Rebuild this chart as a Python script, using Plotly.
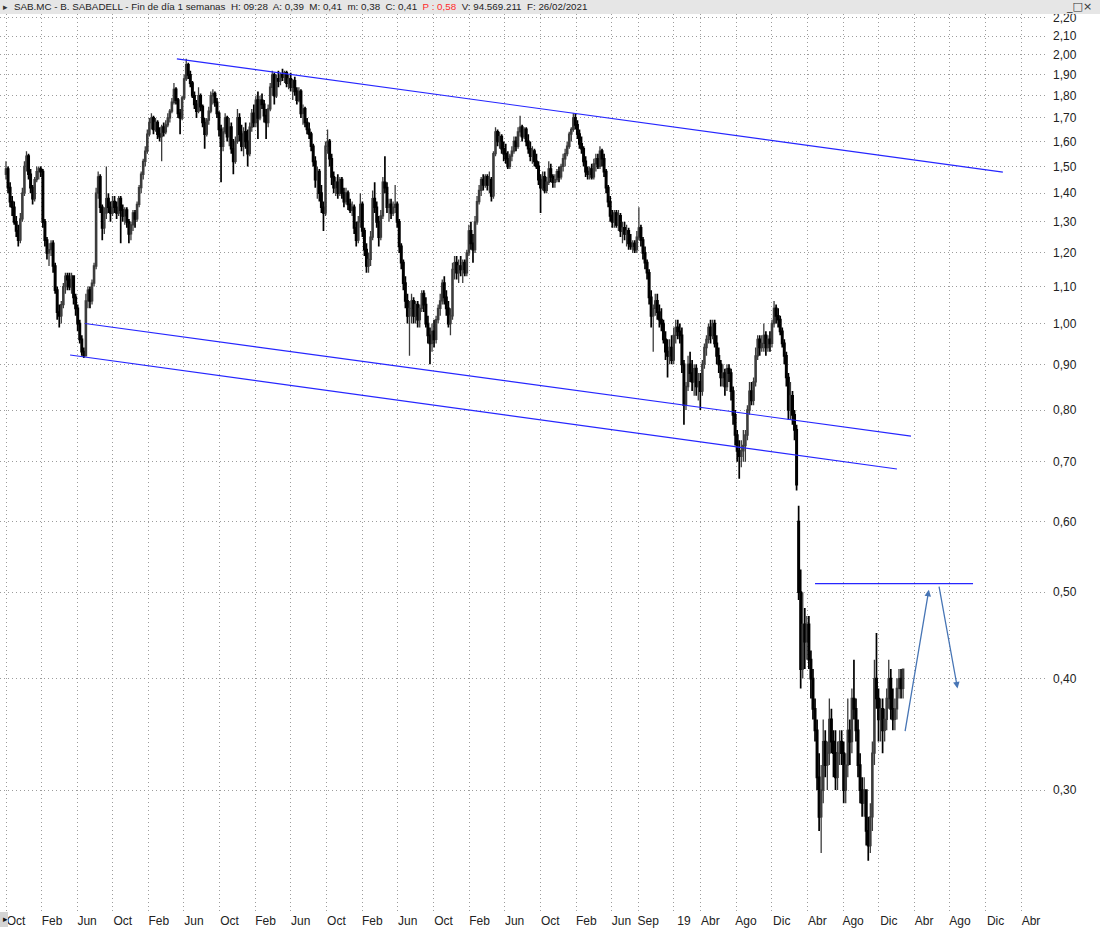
import numpy as np
import pandas as pd
import plotly.graph_objects as go

# ---------------- weekly OHLC ----------------
first_week = "2012-10-01"

opens = [
 1.47,1.49,1.42,1.37,1.35,1.30,1.27,1.24,1.31,1.40,
 1.50,1.54,1.47,1.42,1.38,1.45,1.48,1.49,1.48,1.30,
 1.24,1.20,1.21,1.23,1.16,1.09,1.03,1.02,1.05,1.10,
 1.13,1.12,1.10,1.13,1.07,1.04,1.00,0.96,0.93,0.92,
 1.06,1.09,1.06,1.11,1.16,1.40,1.46,1.35,1.28,1.33,
 1.38,1.35,1.33,1.37,1.35,1.33,1.38,1.34,1.32,1.34,
 1.30,1.26,1.29,1.33,1.31,1.36,1.42,1.47,1.52,1.56,
 1.63,1.68,1.70,1.65,1.68,1.63,1.62,1.66,1.64,1.67,
 1.70,1.73,1.77,1.83,1.78,1.72,1.70,1.79,1.88,1.95,
 1.90,1.86,1.80,1.76,1.73,1.80,1.75,1.68,1.63,1.69,
 1.73,1.80,1.81,1.77,1.72,1.65,1.58,1.64,1.70,1.62,
 1.66,1.57,1.52,1.60,1.70,1.63,1.58,1.64,1.60,1.55,
 1.66,1.72,1.68,1.78,1.70,1.78,1.76,1.71,1.68,1.74,
 1.84,1.90,1.80,1.88,1.87,1.90,1.89,1.91,1.86,1.88,
 1.84,1.87,1.82,1.78,1.82,1.72,1.74,1.68,1.65,1.63,
 1.58,1.52,1.45,1.48,1.40,1.35,1.33,1.58,1.60,1.53,
 1.46,1.42,1.44,1.40,1.45,1.40,1.37,1.40,1.36,1.34,
 1.35,1.28,1.24,1.30,1.36,1.27,1.21,1.16,1.18,1.25,
 1.38,1.35,1.30,1.25,1.32,1.44,1.42,1.35,1.36,1.33,
 1.35,1.36,1.30,1.22,1.17,1.11,1.06,1.02,1.04,1.06,
 1.02,1.05,1.01,1.04,1.08,1.05,1.00,0.97,0.95,0.98,
 0.96,1.01,1.04,1.06,1.11,1.07,1.04,1.00,1.02,1.15,
 1.17,1.14,1.16,1.15,1.17,1.14,1.20,1.27,1.23,1.21,
 1.30,1.37,1.41,1.45,1.43,1.46,1.43,1.45,1.39,1.55,
 1.64,1.60,1.62,1.57,1.55,1.53,1.50,1.54,1.56,1.60,
 1.58,1.64,1.66,1.62,1.65,1.60,1.57,1.54,1.56,1.52,
 1.50,1.45,1.42,1.46,1.41,1.44,1.49,1.46,1.44,1.45,
 1.48,1.46,1.50,1.53,1.55,1.58,1.63,1.65,1.70,1.67,
 1.63,1.59,1.57,1.52,1.48,1.47,1.49,1.46,1.51,1.53,
 1.50,1.56,1.53,1.48,1.42,1.37,1.32,1.30,1.33,1.29,
 1.32,1.27,1.28,1.26,1.27,1.23,1.22,1.23,1.21,1.25,
 1.28,1.24,1.20,1.17,1.14,1.07,1.02,1.04,1.06,1.03,
 1.01,1.00,0.96,0.93,0.92,0.94,0.91,0.97,0.99,0.98,
 0.97,0.90,0.81,0.85,0.90,0.88,0.86,0.89,0.85,0.86,
 0.84,0.90,0.94,0.96,0.99,0.97,1.00,0.95,0.92,0.90,
 0.87,0.88,0.85,0.89,0.88,0.84,0.79,0.75,0.72,0.71,
 0.72,0.73,0.75,0.80,0.84,0.82,0.86,0.92,0.96,0.94,
 0.95,0.97,0.94,0.96,0.95,1.00,1.04,1.02,1.01,0.98,
 0.95,0.92,0.87,0.80,0.83,0.79,0.76,0.60,0.50,0.41,
 0.46,0.44,0.46,0.42,0.40,0.37,0.35,0.31,0.28,0.30,
 0.34,0.32,0.33,0.36,0.34,0.33,0.31,0.33,0.34,0.33,
 0.30,0.32,0.35,0.34,0.38,0.37,0.35,0.32,0.30,0.29,
 0.30,0.27,0.26,0.28,0.33,0.40,0.38,0.36,0.37,0.35,
 0.36,0.38,0.40,0.37,0.36,0.37,0.39,0.40,0.39]

highs = [
 1.52,1.50,1.44,1.39,1.37,1.32,1.29,1.33,1.42,1.52,
 1.56,1.55,1.49,1.43,1.46,1.50,1.50,1.50,1.49,1.31,
 1.25,1.23,1.24,1.24,1.17,1.10,1.05,1.06,1.11,1.14,
 1.14,1.14,1.14,1.13,1.08,1.05,1.01,0.97,0.94,1.08,
 1.10,1.10,1.12,1.17,1.42,1.48,1.47,1.36,1.35,1.50,
 1.40,1.37,1.39,1.39,1.37,1.39,1.39,1.36,1.35,1.35,
 1.31,1.30,1.34,1.34,1.37,1.43,1.48,1.53,1.58,1.65,
 1.70,1.72,1.71,1.70,1.69,1.66,1.67,1.68,1.69,1.72,
 1.74,1.79,1.86,1.84,1.79,1.74,1.80,1.90,1.98,1.96,
 1.92,1.87,1.82,1.78,1.84,1.81,1.76,1.70,1.70,1.75,
 1.82,1.83,1.82,1.79,1.73,1.67,1.66,1.72,1.71,1.70,
 1.68,1.61,1.62,1.74,1.72,1.67,1.66,1.68,1.65,1.68,
 1.74,1.76,1.80,1.82,1.80,1.81,1.78,1.74,1.76,1.86,
 1.92,1.91,1.90,1.92,1.91,1.93,1.92,1.92,1.90,1.91,
 1.88,1.89,1.84,1.84,1.83,1.76,1.75,1.70,1.68,1.64,
 1.59,1.54,1.50,1.49,1.43,1.37,1.60,1.65,1.61,1.55,
 1.48,1.46,1.47,1.46,1.46,1.42,1.42,1.41,1.38,1.37,
 1.36,1.30,1.32,1.40,1.37,1.28,1.23,1.20,1.27,1.41,
 1.44,1.37,1.32,1.34,1.46,1.54,1.44,1.38,1.38,1.37,
 1.43,1.37,1.31,1.23,1.18,1.13,1.08,1.06,1.08,1.07,
 1.06,1.06,1.05,1.09,1.09,1.07,1.02,0.99,1.00,1.01,
 1.02,1.05,1.08,1.12,1.13,1.09,1.06,1.04,1.17,1.19,
 1.19,1.18,1.19,1.18,1.18,1.21,1.29,1.30,1.26,1.32,
 1.39,1.43,1.46,1.47,1.47,1.47,1.48,1.46,1.56,1.66,
 1.65,1.64,1.63,1.60,1.59,1.56,1.55,1.58,1.62,1.62,
 1.66,1.71,1.67,1.66,1.66,1.63,1.60,1.58,1.57,1.55,
 1.52,1.47,1.48,1.48,1.46,1.52,1.51,1.47,1.47,1.49,
 1.50,1.51,1.55,1.57,1.60,1.64,1.66,1.72,1.72,1.69,
 1.65,1.62,1.58,1.54,1.50,1.50,1.51,1.53,1.55,1.55,
 1.58,1.57,1.55,1.49,1.43,1.39,1.34,1.34,1.34,1.34,
 1.33,1.30,1.30,1.29,1.28,1.26,1.24,1.24,1.27,1.35,
 1.29,1.25,1.22,1.18,1.15,1.09,1.05,1.08,1.08,1.05,
 1.04,1.01,0.98,0.96,0.96,0.97,0.99,1.01,1.01,1.00,
 0.99,0.91,0.86,0.92,0.93,0.91,0.90,0.90,0.88,0.88,
 0.91,0.95,0.97,1.00,1.01,1.01,1.01,0.97,0.94,0.91,
 0.90,0.89,0.90,0.90,0.89,0.85,0.80,0.76,0.74,0.74,
 0.76,0.76,0.81,0.86,0.86,0.87,0.94,0.97,0.97,0.97,
 1.00,0.98,0.97,0.98,1.01,1.06,1.05,1.04,1.02,0.99,
 0.96,0.93,0.88,0.86,0.84,0.80,0.77,0.625,0.53,0.50,
 0.48,0.47,0.47,0.43,0.41,0.38,0.36,0.33,0.32,0.36,
 0.35,0.34,0.38,0.37,0.35,0.35,0.34,0.35,0.35,0.34,
 0.33,0.38,0.36,0.39,0.42,0.38,0.36,0.33,0.31,0.31,
 0.30,0.28,0.29,0.34,0.42,0.45,0.39,0.38,0.38,0.37,
 0.39,0.42,0.41,0.39,0.38,0.40,0.41,0.41,0.41]

lows = [
 1.45,1.40,1.35,1.32,1.29,1.25,1.22,1.23,1.30,1.39,
 1.48,1.45,1.40,1.36,1.37,1.44,1.45,1.46,1.28,1.22,
 1.18,1.16,1.19,1.14,1.08,1.01,0.99,1.00,1.04,1.08,
 1.09,1.09,1.08,1.05,1.02,0.98,0.95,0.92,0.915,0.92,
 1.04,1.04,1.05,1.10,1.15,1.38,1.33,1.24,1.26,1.31,
 1.33,1.30,1.32,1.33,1.31,1.32,1.23,1.30,1.29,1.28,
 1.23,1.24,1.27,1.28,1.30,1.35,1.40,1.45,1.50,1.55,
 1.62,1.65,1.63,1.64,1.61,1.60,1.52,1.62,1.63,1.66,
 1.68,1.72,1.76,1.76,1.70,1.63,1.69,1.78,1.87,1.88,
 1.84,1.79,1.74,1.70,1.72,1.73,1.66,1.57,1.62,1.67,
 1.72,1.76,1.75,1.70,1.62,1.44,1.56,1.63,1.60,1.58,
 1.55,1.47,1.51,1.59,1.60,1.56,1.54,1.57,1.50,1.54,
 1.64,1.66,1.66,1.61,1.69,1.74,1.68,1.61,1.66,1.73,
 1.80,1.76,1.79,1.84,1.85,1.87,1.86,1.84,1.83,1.82,
 1.78,1.80,1.76,1.77,1.70,1.67,1.66,1.63,1.61,1.56,
 1.50,1.42,1.38,1.37,1.33,1.27,1.32,1.55,1.50,1.43,
 1.40,1.39,1.38,1.39,1.38,1.35,1.36,1.34,1.33,1.32,
 1.26,1.22,1.23,1.28,1.25,1.19,1.14,1.14,1.16,1.24,
 1.33,1.28,1.22,1.24,1.31,1.40,1.33,1.30,1.31,1.32,
 1.33,1.28,1.20,1.15,1.09,1.04,1.00,0.92,1.00,1.00,
 1.00,0.99,0.99,1.03,1.03,0.99,0.95,0.90,0.93,0.94,
 0.95,1.00,1.02,1.05,1.05,1.02,0.99,0.97,1.01,1.12,
 1.12,1.11,1.13,1.11,1.13,1.13,1.19,1.21,1.17,1.20,
 1.29,1.36,1.39,1.41,1.42,1.41,1.40,1.37,1.38,1.54,
 1.58,1.57,1.55,1.52,1.51,1.49,1.49,1.52,1.55,1.56,
 1.57,1.62,1.60,1.61,1.58,1.55,1.52,1.51,1.50,1.49,
 1.43,1.33,1.41,1.40,1.40,1.43,1.44,1.42,1.42,1.44,
 1.44,1.45,1.48,1.50,1.54,1.57,1.60,1.64,1.65,1.61,
 1.57,1.55,1.50,1.46,1.45,1.45,1.45,1.45,1.48,1.49,
 1.49,1.50,1.46,1.40,1.35,1.30,1.28,1.28,1.28,1.27,
 1.25,1.23,1.24,1.22,1.21,1.21,1.20,1.20,1.20,1.24,
 1.22,1.18,1.15,1.12,1.05,0.99,0.93,1.02,1.01,0.99,
 0.98,0.95,0.91,0.87,0.90,0.90,0.90,0.95,0.96,0.95,
 0.88,0.77,0.80,0.84,0.86,0.84,0.83,0.83,0.82,0.80,
 0.83,0.89,0.92,0.95,0.95,0.96,0.94,0.90,0.88,0.85,
 0.85,0.83,0.84,0.86,0.82,0.77,0.73,0.70,0.67,0.69,
 0.70,0.70,0.74,0.79,0.81,0.81,0.85,0.91,0.92,0.93,
 0.93,0.92,0.93,0.93,0.94,0.99,1.00,0.99,0.97,0.94,
 0.90,0.85,0.78,0.78,0.77,0.74,0.65,0.49,0.39,0.40,
 0.41,0.42,0.41,0.38,0.36,0.34,0.30,0.27,0.255,0.29,
 0.31,0.30,0.32,0.33,0.31,0.30,0.30,0.32,0.32,0.29,
 0.29,0.31,0.32,0.33,0.36,0.34,0.31,0.29,0.28,0.28,
 0.26,0.25,0.255,0.27,0.32,0.37,0.34,0.34,0.33,0.34,
 0.35,0.37,0.36,0.35,0.35,0.36,0.38,0.38,0.38]

closes = [
 1.49,1.42,1.37,1.35,1.30,1.27,1.24,1.31,1.40,1.50,
 1.54,1.47,1.42,1.38,1.45,1.48,1.49,1.48,1.30,1.24,
 1.20,1.21,1.23,1.16,1.09,1.03,1.02,1.05,1.10,1.13,
 1.12,1.10,1.13,1.07,1.04,1.00,0.96,0.93,0.92,1.06,
 1.09,1.06,1.11,1.16,1.40,1.46,1.35,1.28,1.33,1.38,
 1.35,1.33,1.37,1.35,1.33,1.38,1.34,1.32,1.34,1.30,
 1.26,1.29,1.33,1.31,1.36,1.42,1.47,1.52,1.56,1.63,
 1.68,1.70,1.65,1.68,1.63,1.62,1.66,1.64,1.67,1.70,
 1.73,1.77,1.83,1.78,1.72,1.70,1.79,1.88,1.95,1.90,
 1.86,1.80,1.76,1.73,1.80,1.75,1.68,1.63,1.69,1.73,
 1.80,1.81,1.77,1.72,1.65,1.58,1.64,1.70,1.62,1.66,
 1.57,1.52,1.60,1.70,1.63,1.58,1.64,1.60,1.55,1.66,
 1.72,1.68,1.78,1.70,1.78,1.76,1.71,1.68,1.74,1.84,
 1.90,1.80,1.88,1.87,1.90,1.89,1.91,1.86,1.88,1.84,
 1.87,1.82,1.78,1.82,1.72,1.74,1.68,1.65,1.63,1.58,
 1.52,1.45,1.48,1.40,1.35,1.33,1.58,1.60,1.53,1.46,
 1.42,1.44,1.40,1.45,1.40,1.37,1.40,1.36,1.34,1.35,
 1.28,1.24,1.30,1.36,1.27,1.21,1.16,1.18,1.25,1.38,
 1.35,1.30,1.25,1.32,1.44,1.42,1.35,1.36,1.33,1.35,
 1.36,1.30,1.22,1.17,1.11,1.06,1.02,1.04,1.06,1.02,
 1.05,1.01,1.04,1.08,1.05,1.00,0.97,0.95,0.98,0.96,
 1.01,1.04,1.06,1.11,1.07,1.04,1.00,1.02,1.15,1.17,
 1.14,1.16,1.15,1.17,1.14,1.20,1.27,1.23,1.21,1.30,
 1.37,1.41,1.45,1.43,1.46,1.43,1.45,1.39,1.55,1.64,
 1.60,1.62,1.57,1.55,1.53,1.50,1.54,1.56,1.60,1.58,
 1.64,1.66,1.62,1.65,1.60,1.57,1.54,1.56,1.52,1.50,
 1.45,1.42,1.46,1.41,1.44,1.49,1.46,1.44,1.45,1.48,
 1.46,1.50,1.53,1.55,1.58,1.63,1.65,1.70,1.67,1.63,
 1.59,1.57,1.52,1.48,1.47,1.49,1.46,1.51,1.53,1.50,
 1.56,1.53,1.48,1.42,1.37,1.32,1.30,1.33,1.29,1.32,
 1.27,1.28,1.26,1.27,1.23,1.22,1.23,1.21,1.25,1.28,
 1.24,1.20,1.17,1.14,1.07,1.02,1.04,1.06,1.03,1.01,
 1.00,0.96,0.93,0.92,0.94,0.91,0.97,0.99,0.98,0.97,
 0.90,0.81,0.85,0.90,0.88,0.86,0.89,0.85,0.86,0.84,
 0.90,0.94,0.96,0.99,0.97,1.00,0.95,0.92,0.90,0.87,
 0.88,0.85,0.89,0.88,0.84,0.79,0.75,0.72,0.71,0.72,
 0.73,0.75,0.80,0.84,0.82,0.86,0.92,0.96,0.94,0.95,
 0.97,0.94,0.96,0.95,1.00,1.04,1.02,1.01,0.98,0.95,
 0.92,0.87,0.80,0.83,0.79,0.76,0.66,0.50,0.41,0.46,
 0.44,0.46,0.42,0.40,0.37,0.35,0.31,0.28,0.30,0.34,
 0.32,0.33,0.36,0.34,0.33,0.31,0.33,0.34,0.33,0.30,
 0.32,0.35,0.34,0.38,0.37,0.35,0.32,0.30,0.29,0.30,
 0.27,0.26,0.28,0.33,0.40,0.38,0.36,0.37,0.35,0.36,
 0.38,0.40,0.37,0.36,0.37,0.39,0.40,0.39,0.41]

# ---------------- drawn trend lines (end points) ----------------
upper_line_x = ["2014-05-08", "2022-01-29"]
upper_line_y = [1.98, 1.478]
mid_line_x = ["2013-06-28", "2021-03-21"]
mid_line_y = [1.00, 0.748]
low_line_x = ["2013-05-08", "2021-02-01"]
low_line_y = [0.922, 0.687]
resist_x = ["2020-04-27", "2021-10-19"]
resist_y = [0.511, 0.511]
arrow_up_x = ["2021-02-28", "2021-05-21"]
arrow_up_y = [0.348, 0.503]
arrow_down_x = ["2021-06-24", "2021-08-27"]
arrow_down_y = [0.509, 0.390]

# ---------------- axis ticks ----------------
x_tick_dates = ["2012-10-01", "2013-02-01", "2013-06-01", "2013-10-01", "2014-02-01",
                "2014-06-01", "2014-10-01", "2015-02-01", "2015-06-01", "2015-10-01",
                "2016-02-01", "2016-06-01", "2016-10-01", "2017-02-01", "2017-06-01",
                "2017-10-01", "2018-02-01", "2018-06-01", "2018-09-01", "2019-01-01",
                "2019-04-01", "2019-08-01", "2019-12-01", "2020-04-01", "2020-08-01",
                "2020-12-01", "2021-04-01", "2021-08-01", "2021-12-01", "2022-04-01"]
x_tick_text = ["Oct", "Feb", "Jun", "Oct", "Feb", "Jun", "Oct", "Feb", "Jun", "Oct",
               "Feb", "Jun", "Oct", "Feb", "Jun", "Oct", "Feb", "Jun", "Sep", "19",
               "Abr", "Ago", "Dic", "Abr", "Ago", "Dic", "Abr", "Ago", "Dic", "Abr"]
y_tick_vals = [0.30, 0.40, 0.50, 0.60, 0.70, 0.80, 0.90, 1.00, 1.10, 1.20, 1.30,
               1.40, 1.50, 1.60, 1.70, 1.80, 1.90, 2.00, 2.10, 2.20]
y_tick_text = ["0,30", "0,40", "0,50", "0,60", "0,70", "0,80", "0,90", "1,00", "1,10",
               "1,20", "1,30", "1,40", "1,50", "1,60", "1,70", "1,80", "1,90", "2,00",
               "2,10", "2,20"]

W, H = 1100, 928
ML, MR, MT, MB = 0, 55, 14, 17
PW, PH = W - ML - MR, H - MT - MB


def px(xp):
    return (xp - ML) / PW


def py(yp):
    return (H - MB - yp) / PH


dates = pd.date_range(first_week, periods=len(closes), freq="7D")

fig = go.Figure()
fig.add_trace(go.Candlestick(
    x=dates, open=opens, high=highs, low=lows, close=closes,
    increasing=dict(line=dict(color="#3c3c3c", width=1.3), fillcolor="#ffffff"),
    decreasing=dict(line=dict(color="#000000", width=1.7), fillcolor="#000000"),
    whiskerwidth=0, hoverinfo="skip", showlegend=False))

line_blue = "#2626ff"
for lx, ly in [(upper_line_x, upper_line_y), (mid_line_x, mid_line_y),
               (low_line_x, low_line_y), (resist_x, resist_y)]:
    fig.add_trace(go.Scatter(x=lx, y=ly, mode="lines", hoverinfo="skip",
                             line=dict(color=line_blue, width=1.2), showlegend=False))

arrow_col = "#4775b5"
for ax_, ay_ in [(arrow_up_x, arrow_up_y), (arrow_down_x, arrow_down_y)]:
    fig.add_annotation(x=ax_[1], y=np.log10(ay_[1]), ax=ax_[0], ay=np.log10(ay_[0]),
                       xref="x", yref="y", axref="x", ayref="y", text="",
                       showarrow=True, arrowhead=2, arrowsize=1, arrowwidth=1.3,
                       arrowcolor=arrow_col)

font_main = "Liberation Sans, Arial, sans-serif"

# title bar
fig.add_shape(type="rect", xref="paper", yref="paper", x0=px(0), x1=px(W),
              y0=py(14), y1=py(0), fillcolor="#e6e6e6", line=dict(width=0), layer="above")
fig.add_annotation(xref="paper", yref="paper", x=px(12), y=py(7), xanchor="left",
                   yanchor="middle", showarrow=False,
                   text=("SAB.MC - B. SABADELL - Fin de día 1 semanas  H: 09:28  A: 0,39  "
                         "M: 0,41  m: 0,38  C: 0,41  <span style='color:#ff2a2a'>P : 0,58</span>"
                         "  V: 94.569.211  F: 26/02/2021"),
                   font=dict(family=font_main, size=9.8, color="#1e1e1e"))
fig.add_annotation(xref="paper", yref="paper", x=px(1), y=py(7), xanchor="left",
                   yanchor="middle", showarrow=False, text="▸",
                   font=dict(family=font_main, size=9, color="#333333"))
fig.add_annotation(xref="paper", yref="paper", x=px(1094), y=py(6), xanchor="right",
                   yanchor="middle", showarrow=False, text="_□×",
                   font=dict(family="DejaVu Sans", size=11, color="#333333"))
# bottom-left button
fig.add_shape(type="rect", xref="paper", yref="paper", x0=px(0), x1=px(8),
              y0=py(927), y1=py(912), fillcolor="#d4d4d4", line=dict(width=0), layer="above")
fig.add_annotation(xref="paper", yref="paper", x=px(1), y=py(919), xanchor="left",
                   yanchor="middle", showarrow=False, text="▸",
                   font=dict(family=font_main, size=9, color="#111111"))

grid = dict(showgrid=True, gridcolor="#9c9c9c", gridwidth=1, griddash="1px,3px")

fig.update_layout(
    width=W, height=H,
    margin=dict(l=ML, r=MR, t=MT, b=MB),
    paper_bgcolor="#ffffff", plot_bgcolor="#ffffff",
    showlegend=False, boxgap=0.1,
    font=dict(family=font_main, size=12, color="#222222"),
    xaxis=dict(type="date", range=["2012-09-10 12:00", "2022-06-22"],
               tickmode="array", tickvals=x_tick_dates, ticktext=x_tick_text,
               ticks="", showline=False, zeroline=False, automargin=False,
               ticklabelshift=10, ticklabelstandoff=1,
               tickfont=dict(family=font_main, size=12, color="#222222"),
               rangeslider=dict(visible=False), **grid),
    yaxis=dict(type="log", range=[-0.6584, 0.3469], side="right",
               tickmode="array", tickvals=y_tick_vals, ticktext=y_tick_text,
               ticks="", showline=False, zeroline=False, automargin=False,
               ticklabelstandoff=7,
               tickfont=dict(family=font_main, size=12, color="#222222"), **grid),
)

fig.write_html("out.html")
